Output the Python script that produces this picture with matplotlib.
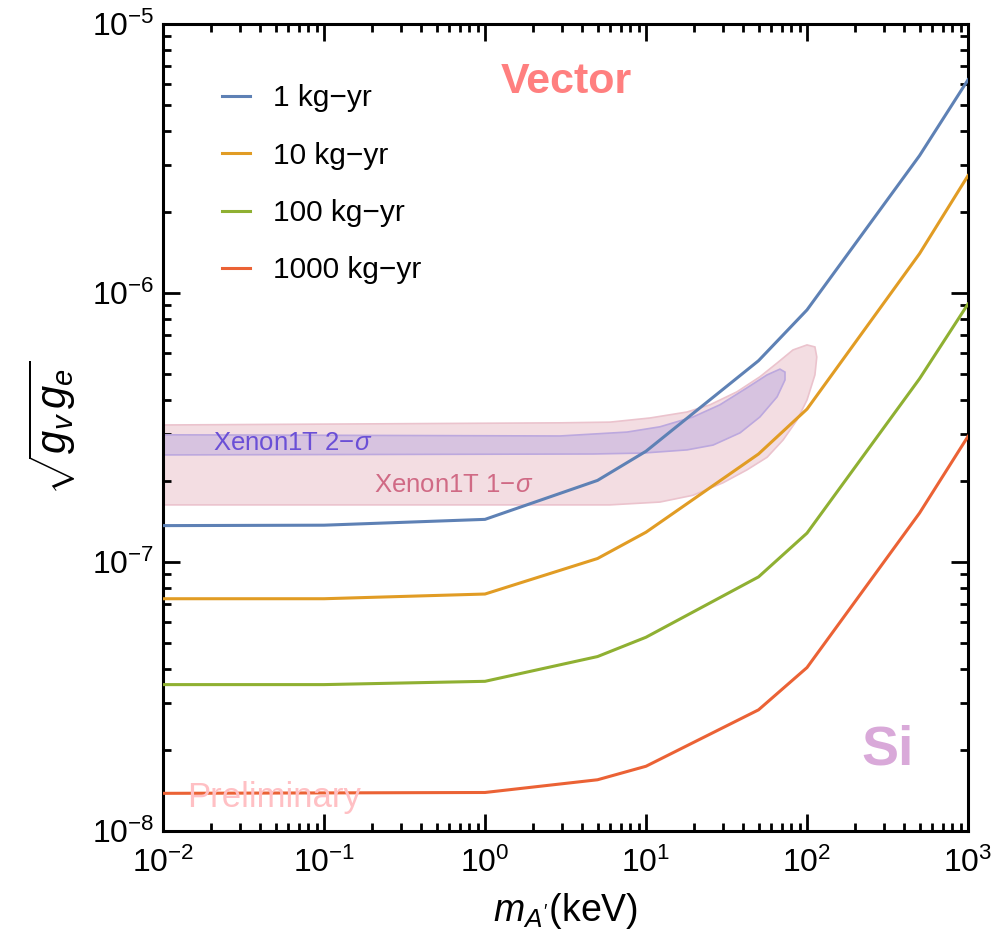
import matplotlib
matplotlib.use("Agg")
import matplotlib.pyplot as plt
import numpy as np

plt.rcParams['font.family'] = ['Liberation Sans', 'DejaVu Sans']
plt.rcParams['mathtext.fontset'] = 'custom'
plt.rcParams['mathtext.rm'] = 'Liberation Sans'
plt.rcParams['mathtext.it'] = 'Liberation Sans:italic'

mass = [0.01, 0.1, 1, 5, 10, 50, 100, 500, 1000]
labels = ["1 kg\u2212yr", "10 kg\u2212yr", "100 kg\u2212yr", "1000 kg\u2212yr"]
colors = ["#5E81B5", "#E19C24", "#8FB032", "#EB6235"]
g_1 = [1.365e-7, 1.37e-7, 1.44e-7, 2.01e-7, 2.58e-7, 5.6e-7, 8.65e-7, 3.24e-6, 6.2e-6]
g_10 = [7.3e-8, 7.3e-8, 7.6e-8, 1.03e-7, 1.29e-7, 2.52e-7, 3.7e-7, 1.4e-6, 2.73e-6]
g_100 = [3.5e-8, 3.5e-8, 3.6e-8, 4.45e-8, 5.25e-8, 8.8e-8, 1.28e-7, 4.8e-7, 9.1e-7]
g_1000 = [1.38e-8, 1.385e-8, 1.39e-8, 1.55e-8, 1.74e-8, 2.82e-8, 4.05e-8, 1.52e-7, 2.93e-7]
series = [g_1, g_10, g_100, g_1000]

# Xenon1T 1-sigma region boundary (mass keV, coupling)
x1_mass = [0.01, 2.92, 5.97, 10.6, 18.0, 25.0, 36.7, 51.0, 65.2, 81.8, 100, 112, 115, 112,
           100, 86.7, 71.0, 56.5, 42.4, 30.1, 19.6, 12.2, 5.97, 0.01]
x1_g = [3.23e-7, 3.29e-7, 3.31e-7, 3.43e-7, 3.61e-7, 3.84e-7, 4.29e-7, 4.88e-7, 5.49e-7, 6.14e-7,
        6.41e-7, 6.30e-7, 5.78e-7, 4.96e-7, 4.00e-7, 3.37e-7, 2.84e-7, 2.45e-7, 2.20e-7, 1.97e-7,
        1.77e-7, 1.67e-7, 1.63e-7, 1.63e-7]
# Xenon1T 2-sigma region boundary
x2_mass = [0.01, 2.92, 7.62, 12.2, 19.6, 28.8, 42.4, 56.5, 67.9, 73.0, 73.0, 65.2, 51.0, 38.4,
           26.1, 18.0, 9.58, 4.69, 0.01]
x2_g = [2.97e-7, 2.94e-7, 3.04e-7, 3.18e-7, 3.46e-7, 3.84e-7, 4.44e-7, 4.96e-7, 5.21e-7, 5.08e-7,
        4.75e-7, 4.11e-7, 3.46e-7, 3.02e-7, 2.72e-7, 2.61e-7, 2.54e-7, 2.52e-7, 2.50e-7]

fig = plt.figure(figsize=(10, 9.4), dpi=100)
ax = fig.add_axes([0.163, 0.116, 0.805, 0.8585])

ax.fill(x1_mass, x1_g, facecolor="#F3DDE2", edgecolor="#EBC3CD", lw=1.2, zorder=1)
ax.fill(x2_mass, x2_g, facecolor="#D7C3E0", edgecolor="#BCA8DE", lw=1.2, zorder=2)

for s, c, l in zip(series, colors, labels):
    ax.plot(mass, s, color=c, lw=2.2, label=l, zorder=3)

ax.set_xscale('log')
ax.set_yscale('log')
ax.set_xlim(1e-2, 1e3)
ax.set_ylim(1e-8, 1e-5)

for sp in ax.spines.values():
    sp.set_linewidth(2.2)
ax.tick_params(which='both', direction='in', top=True, right=True, width=2, labelsize=23)
ax.tick_params(which='major', length=12)
ax.tick_params(which='minor', length=6)
ax.tick_params(axis='x', which='major', pad=12)
ax.tick_params(axis='y', which='major', pad=6)
ax.xaxis.set_major_locator(matplotlib.ticker.LogLocator(base=10, numticks=10))
ax.xaxis.set_minor_locator(matplotlib.ticker.LogLocator(base=10, subs=np.arange(2, 10), numticks=20))
ax.yaxis.set_minor_locator(matplotlib.ticker.LogLocator(base=10, subs=np.arange(2, 10), numticks=20))
ax.xaxis.set_minor_formatter(matplotlib.ticker.NullFormatter())
ax.yaxis.set_minor_formatter(matplotlib.ticker.NullFormatter())

ax.set_xlabel(r"$m_{A^{\prime}}$(keV)", fontsize=27, labelpad=9)
ax.set_ylabel(r"$\sqrt{g_v\, g_e}$", fontsize=30, labelpad=10)

leg = ax.legend(loc='upper left', frameon=False, fontsize=21.5, handlelength=0.95,
                labelspacing=0.98, handletextpad=0.75, borderpad=0, borderaxespad=0,
                bbox_to_anchor=(0.073, 0.925))

ax.text(0.5006, 0.928, "Vector", transform=ax.transAxes, color="#FF7F7F", fontsize=31,
        fontweight='bold', ha='center', va='center')
ax.text(0.9006, 0.100, "Si", transform=ax.transAxes, color="#D9A9D9", fontsize=40,
        fontweight='bold', ha='center', va='center')
ax.text(0.138, 0.041, "Preliminary", transform=ax.transAxes, color="#FFC0C4", fontsize=25,
        ha='center', va='center')
ax.text(0.062, 0.481, r"Xenon1T 2$-\sigma$", transform=ax.transAxes, color="#6A4FD6",
        fontsize=18.5, ha='left', va='center')
ax.text(0.262, 0.429, r"Xenon1T 1$-\sigma$", transform=ax.transAxes, color="#D06A85",
        fontsize=18.5, ha='left', va='center')

fig.savefig("out.png", dpi=100)
